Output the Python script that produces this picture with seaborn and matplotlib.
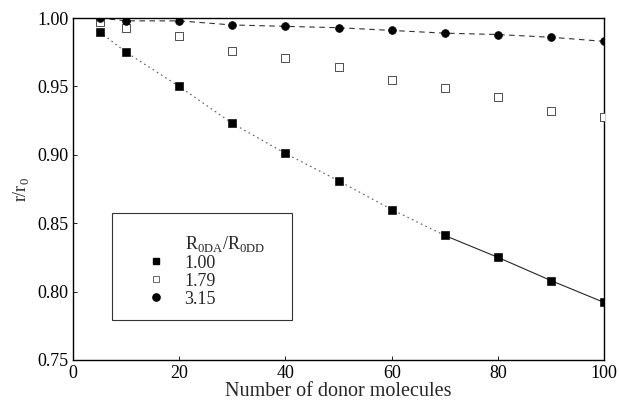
import matplotlib
matplotlib.use("Agg")
import matplotlib.pyplot as plt
import seaborn as sns
import pandas as pd
from matplotlib.patches import Rectangle
from matplotlib.lines import Line2D

donors = [5, 10, 20, 30, 40, 50, 60, 70, 80, 90, 100]
r_100 = [0.990, 0.975, 0.950, 0.923, 0.901, 0.881, 0.860, 0.841, 0.825, 0.808, 0.792]
r_179 = [0.997, 0.993, 0.987, 0.976, 0.971, 0.964, 0.955, 0.949, 0.942, 0.932, 0.928]
r_315 = [1.000, 0.998, 0.998, 0.995, 0.994, 0.993, 0.991, 0.989, 0.988, 0.986, 0.983]
series_labels = ["1.00", "1.79", "3.15"]

sns.set_theme(style="ticks")
plt.rcParams["font.family"] = ["Liberation Serif", "DejaVu Serif"]
plt.rcParams["mathtext.fontset"] = "custom"
plt.rcParams["mathtext.rm"] = "Liberation Serif"

df = pd.DataFrame({
    "x": donors * 3,
    "y": r_100 + r_179 + r_315,
    "ratio": [series_labels[0]] * 11 + [series_labels[1]] * 11 + [series_labels[2]] * 11,
})

fig = plt.figure(figsize=(6.19, 4.03), dpi=100)
ax = fig.add_axes([0.118, 0.107, 0.858, 0.848])

d100 = df[df.ratio == "1.00"]
d315 = df[df.ratio == "3.15"]
d179 = df[df.ratio == "1.79"]

# lines
sns.lineplot(data=d100[d100.x <= 70], x="x", y="y", ax=ax, color="0.35", lw=0.8,
             linestyle=(0, (1.5, 3)), legend=False)
sns.lineplot(data=d100[d100.x >= 70], x="x", y="y", ax=ax, color="0.15", lw=0.8,
             legend=False)
sns.lineplot(data=d315, x="x", y="y", ax=ax, color="0.2", lw=0.8,
             linestyle=(0, (5, 4)), legend=False)

# markers
sns.scatterplot(data=d100, x="x", y="y", ax=ax, marker="s", color="black", s=30,
                edgecolor="black", legend=False, zorder=3)
sns.scatterplot(data=d179, x="x", y="y", ax=ax, marker="s", facecolor="white", s=26,
                edgecolor="0.3", linewidth=0.7, legend=False, zorder=3)
sns.scatterplot(data=d315, x="x", y="y", ax=ax, marker="o", color="black", s=32,
                edgecolor="black", legend=False, zorder=3)

ax.set_xlim(0, 100)
ax.set_ylim(0.75, 1.00)
ax.set_xticks([0, 20, 40, 60, 80, 100])
ax.set_yticks([0.75, 0.80, 0.85, 0.90, 0.95, 1.00])
ax.set_yticklabels([f"{v:.2f}" for v in [0.75, 0.80, 0.85, 0.90, 0.95, 1.00]])
ax.tick_params(direction="in", length=3, width=0.6, labelsize=13, colors="black")
for s in ax.spines.values():
    s.set_linewidth(1.0)
    s.set_color("black")
ax.set_xlabel("Number of donor molecules", fontsize=14.5, labelpad=0)
ax.set_ylabel(r"r/r$_{\rm 0}$", fontsize=13, labelpad=4)

# legend box
ax.add_patch(Rectangle((0.073, 0.117), 0.34, 0.313, transform=ax.transAxes,
                       fill=False, edgecolor="0.2", linewidth=0.8, zorder=1))
handles = [
    Line2D([], [], ls="none", marker=None),
    Line2D([], [], marker="s", color="black", ls="none", markersize=4.8),
    Line2D([], [], marker="s", markerfacecolor="white", markeredgecolor="0.3",
           ls="none", markersize=4.5, markeredgewidth=0.6),
    Line2D([], [], marker="o", color="black", ls="none", markersize=5.2),
]
labels = [r"R$_{\rm 0DA}$/R$_{\rm 0DD}$"] + series_labels
leg = ax.legend(handles, labels,
                loc="upper left", bbox_to_anchor=(0.125, 0.39), frameon=False,
                fontsize=13, handletextpad=1.1,
                labelspacing=0.05, borderaxespad=0, handlelength=1.0)

fig.savefig("out.png", dpi=100)
